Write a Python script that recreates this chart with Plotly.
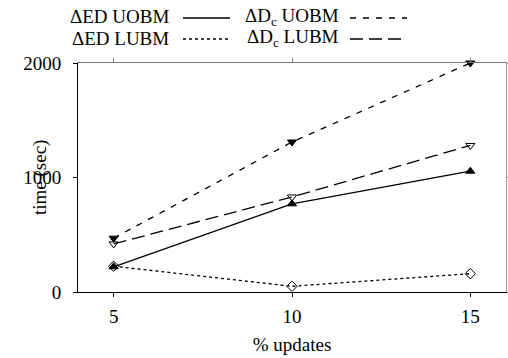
import plotly.graph_objects as go

x_updates = [5, 10, 15]
ed_uobm = [220, 770, 1055]
ed_lubm = [225, 50, 160]
dc_uobm = [470, 1310, 2000]
dc_lubm = [420, 830, 1280]
x_ticks = [5, 10, 15]
y_ticks = [0, 1000, 2000]

names = ["ΔED UOBM", "ΔED LUBM", "ΔD<sub>c</sub> UOBM", "ΔD<sub>c</sub> LUBM"]
series = [ed_uobm, ed_lubm, dc_uobm, dc_lubm]
dashes = ["solid", "3px,3px", "6px,7px", "13px,6px"]
symbols = ["triangle-up", "diamond-open", "triangle-down", "triangle-down-open"]

FONT = "Liberation Serif"
L, R, T, B = 78, 2, 63, 66
W, H = 508, 358
PW, PH = W - L - R, H - T - B


def tf(size=19):
    return dict(family=FONT, size=size)


fig = go.Figure()
for nm, ys, d, s in zip(names, series, dashes, symbols):
    fig.add_trace(go.Scatter(
        x=x_updates, y=ys, mode="lines+markers", name=nm,
        line=dict(color="black", width=1.3, dash=d),
        marker=dict(symbol=s, size=8, color="black", line=dict(color="black", width=1)),
        cliponaxis=False, showlegend=False, xaxis="x", yaxis="y"))

fig.add_trace(go.Scatter(x=[x_updates[0]], y=[y_ticks[0]], xaxis="x2", yaxis="y2",
                         mode="markers", marker=dict(opacity=0), showlegend=False,
                         hoverinfo="skip"))

fig.update_layout(
    width=W, height=H,
    template="none",
    margin=dict(l=L, r=R, t=T, b=B, autoexpand=False),
    paper_bgcolor="white", plot_bgcolor="white",
    font=dict(color="black", size=19, family=FONT),
    xaxis=dict(range=[4, 16], tickvals=x_ticks, ticks="outside", ticklen=4,
               showline=True, linecolor="black", linewidth=1, showgrid=False,
               zeroline=False, automargin=False, ticklabelstandoff=3,
               tickfont=tf(), tickcolor="black",
               title=dict(text="% updates", standoff=11, font=tf())),
    yaxis=dict(range=[0, 2000], tickvals=y_ticks, ticks="outside", ticklen=4,
               showline=True, linecolor="black", linewidth=1, showgrid=False,
               zeroline=False, automargin=False, ticklabelstandoff=8,
               tickfont=tf(), tickcolor="black"),
    xaxis2=dict(range=[4, 16], tickvals=x_ticks, ticks="outside", ticklen=4,
                overlaying="x", side="top", showticklabels=False,
                linecolor="#777", tickcolor="#777", showline=True,
                showgrid=False, zeroline=False, automargin=False),
    yaxis2=dict(range=[0, 2000], tickvals=y_ticks, ticks="outside", ticklen=4,
                overlaying="y", side="right", showticklabels=False,
                linecolor="#999", tickcolor="#999", showline=True,
                showgrid=False, zeroline=False, automargin=False),
)


def px_x(p):
    return (p - L) / PW


def px_y(p):
    return (H - B - p) / PH


fig.add_annotation(text="time (sec)", xref="paper", yref="paper",
                   x=px_x(40), y=px_y(178), textangle=-90,
                   xanchor="center", yanchor="middle", showarrow=False,
                   font=tf())

leg_rows = [17, 38]
leg_text_right = [171, 341]
leg_line = [(183, 230), (350, 407)]
for i, nm in enumerate(names):
    col, row = i // 2, i % 2
    fig.add_annotation(text=nm, xref="paper", yref="paper",
                       x=px_x(leg_text_right[col]), y=px_y(leg_rows[row]),
                       xanchor="right", yanchor="middle", showarrow=False,
                       font=tf())
    x0, x1 = leg_line[col]
    yp = px_y(leg_rows[row] + 1)
    fig.add_shape(type="line", xref="paper", yref="paper",
                  x0=px_x(x0), x1=px_x(x1), y0=yp, y1=yp,
                  line=dict(color="black", width=1.3, dash=dashes[i]))

fig.write_html("out.html")
